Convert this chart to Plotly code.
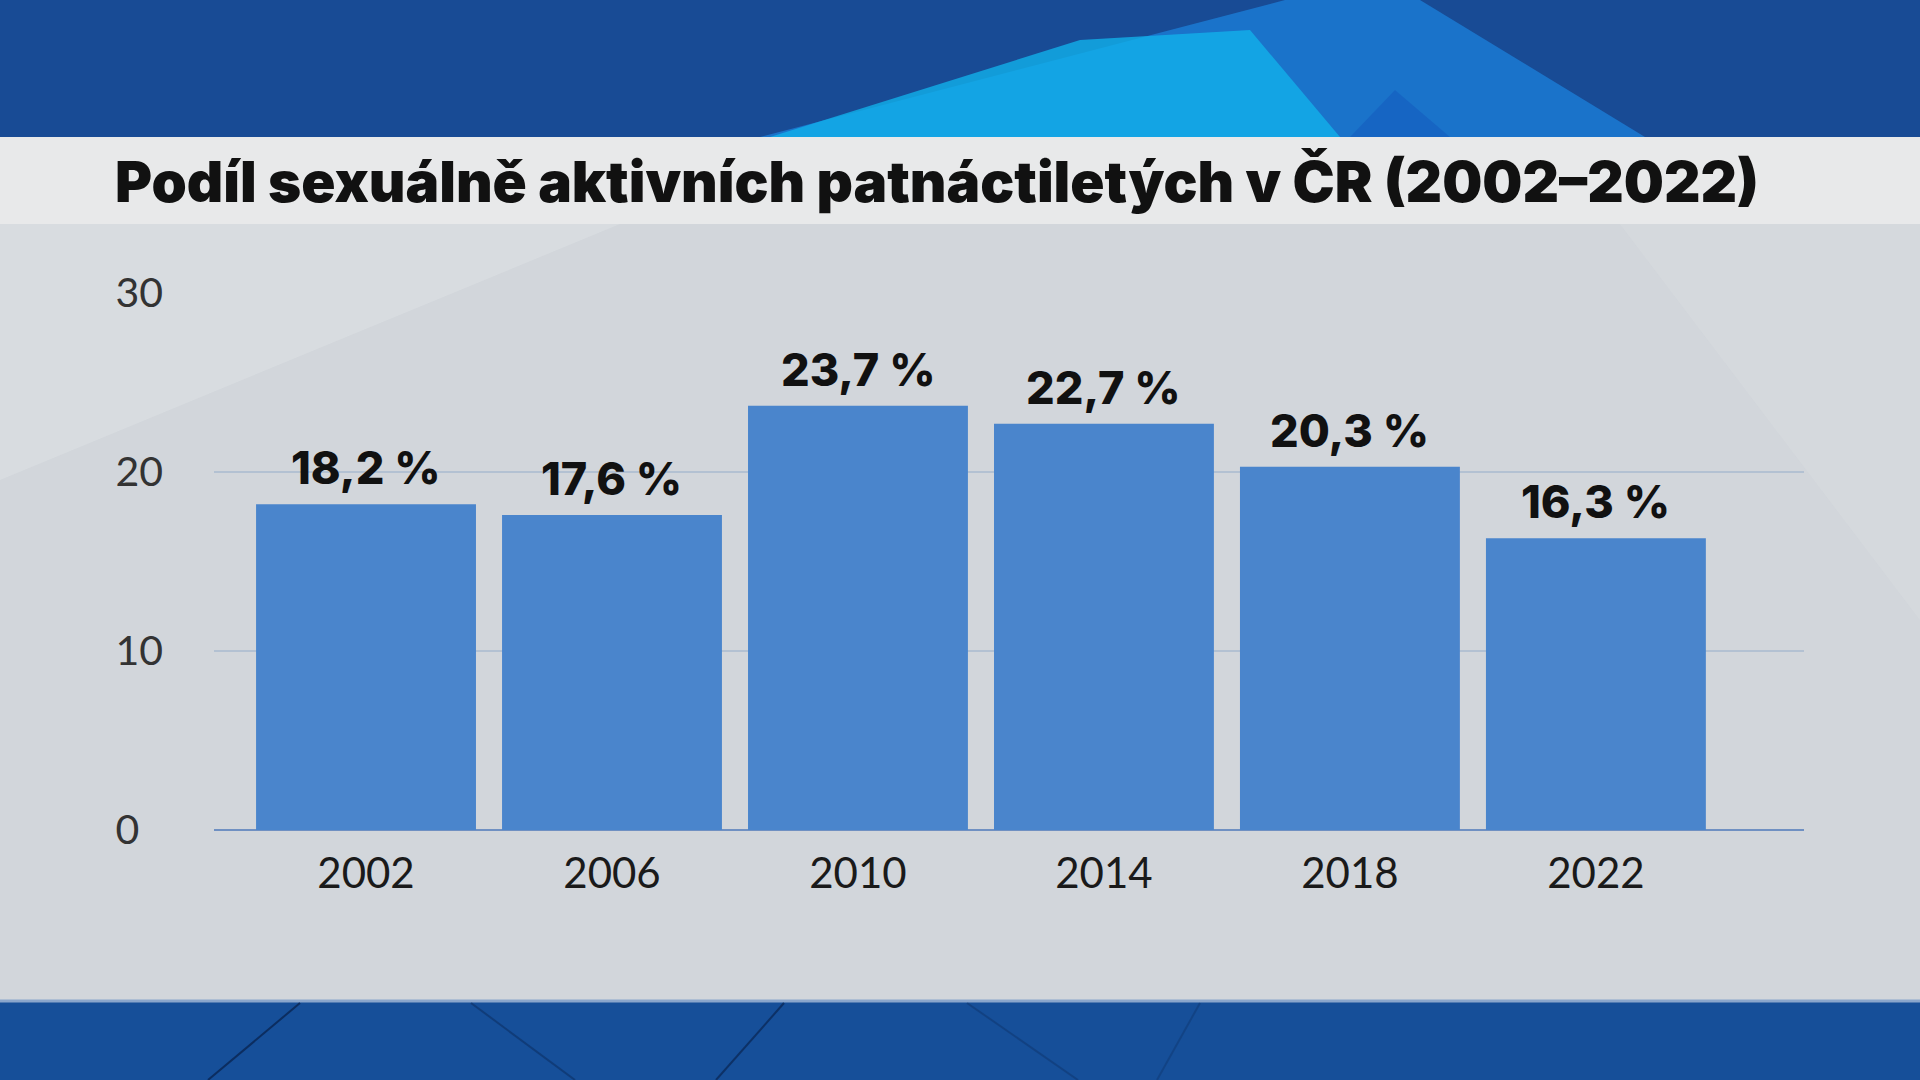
import plotly.graph_objects as go

# ---- data ----
years = ["2002", "2006", "2010", "2014", "2018", "2022"]
shares = [18.2, 17.6, 23.7, 22.7, 20.3, 16.3]
value_labels = ["18,2 %", "17,6 %", "23,7 %", "22,7 %", "20,3 %", "16,3 %"]
y_tick_vals = [0, 10, 20, 30]
y_tick_text = ["0\u2007", "10", "20", "30"]
title_text = "Podíl sexuálně aktivních patnáctiletých v ČR (2002–2022)"

W, H = 1920, 1080
BAR_COLOR = "#4a85cc"
TICK_FONT = "Lato"
BOLD_FONT = "Inter"


def px(x):
    return x / W


def py(y):
    return 1 - y / H


fig = go.Figure()
fig.add_trace(go.Bar(
    x=years, y=shares,
    marker=dict(color=BAR_COLOR, line=dict(width=0)),
    hoverinfo="skip",
))

shapes = []
# top blue band
shapes.append(dict(type="rect", xref="paper", yref="paper", x0=0, x1=1, y0=py(137), y1=1,
                   fillcolor="#184b95", line=dict(width=0), layer="below"))
# light "Λ" shape in top band
shapes.append(dict(type="path", xref="paper", yref="paper",
                   path=f"M {px(760)} {py(137)} L {px(1285)} {py(0)} L {px(1420)} {py(0)} L {px(1645)} {py(137)} Z",
                   fillcolor="#1b78cf", opacity=0.9, line=dict(width=0), layer="below"))
shapes.append(dict(type="path", xref="paper", yref="paper",
                   path=f"M {px(770)} {py(137)} L {px(1080)} {py(40)} L {px(1250)} {py(30)} L {px(1340)} {py(137)} Z",
                   fillcolor="#12b0ea", opacity=0.8, line=dict(width=0), layer="below"))
shapes.append(dict(type="path", xref="paper", yref="paper",
                   path=f"M {px(1350)} {py(137)} L {px(1395)} {py(90)} L {px(1450)} {py(137)} Z",
                   fillcolor="#1660c0", opacity=0.7, line=dict(width=0), layer="below"))
# title band
shapes.append(dict(type="rect", xref="paper", yref="paper", x0=0, x1=1, y0=py(224), y1=py(137),
                   fillcolor="#e8e9ea", line=dict(width=0), layer="below"))
# chart panel
shapes.append(dict(type="rect", xref="paper", yref="paper", x0=0, x1=1, y0=py(1000), y1=py(224),
                   fillcolor="#d2d6db", line=dict(width=0), layer="below"))
shapes.append(dict(type="path", xref="paper", yref="paper",
                   path=f"M 0 {py(224)} L {px(620)} {py(224)} L 0 {py(480)} Z",
                   fillcolor="#e0e4e7", opacity=0.45, line=dict(width=0), layer="below"))
shapes.append(dict(type="path", xref="paper", yref="paper",
                   path=f"M {px(1620)} {py(224)} L {px(1920)} {py(224)} L {px(1920)} {py(620)} Z",
                   fillcolor="#dcdfe3", opacity=0.35, line=dict(width=0), layer="below"))
# bottom band
shapes.append(dict(type="rect", xref="paper", yref="paper", x0=0, x1=1, y0=0, y1=py(1000),
                   fillcolor="#164f99", line=dict(width=0), layer="below"))
shapes.append(dict(type="line", xref="paper", yref="paper", x0=0, x1=1, y0=py(1001), y1=py(1001),
                   line=dict(color="#8aa6cc", width=3), layer="below"))
for (xa, xb, op) in [(300, 208, 0.9), (471, 575, 0.5), (784, 716, 0.8), (967, 1078, 0.35), (1200, 1157, 0.3)]:
    shapes.append(dict(type="line", xref="paper", yref="paper", x0=px(xa), x1=px(xb), y0=py(1003), y1=0,
                       line=dict(color="#0b2a5a", width=2), opacity=op, layer="below"))

annotations = [dict(
    text=title_text, xref="paper", yref="paper",
    x=px(113), y=py(181), xanchor="left", yanchor="middle", showarrow=False,
    font=dict(family=BOLD_FONT, size=56.5, color="#111111", weight=900),
)]
for i, (v, lab) in enumerate(zip(shares, value_labels)):
    annotations.append(dict(
        text=lab, x=i, y=v, xref="x", yref="y", xanchor="center", yanchor="bottom",
        yshift=7, showarrow=False,
        font=dict(family=BOLD_FONT, size=45, color="#111111", weight=800),
    ))

fig.update_layout(
    width=W, height=H,
    margin=dict(l=0, r=0, t=0, b=0, autoexpand=False),
    paper_bgcolor="#d2d6db",
    plot_bgcolor="rgba(0,0,0,0)",
    showlegend=False,
    bargap=0.106,
    shapes=shapes,
    annotations=annotations,
    xaxis=dict(
        domain=[px(214), px(1804)],
        type="category",
        range=[-0.618, 5.846],
        automargin=False,
        showgrid=False, showline=False, zeroline=False,
        ticks="", ticklabelstandoff=15,
        tickfont=dict(family=TICK_FONT, size=42, color="#1a1a1a"),
    ),
    yaxis=dict(
        domain=[1 - 830 / H, 1 - 293 / H],
        range=[0, 30],
        automargin=False,
        tickvals=y_tick_vals, ticktext=y_tick_text,
        showgrid=True, gridcolor="#b3c1d2", gridwidth=2,
        zeroline=True, zerolinecolor="#6f90c2", zerolinewidth=2,
        showline=False, ticks="", ticklabelstandoff=50,
        tickfont=dict(family=TICK_FONT, size=41, color="#333333"),
    ),
)

fig.write_html("out.html")
